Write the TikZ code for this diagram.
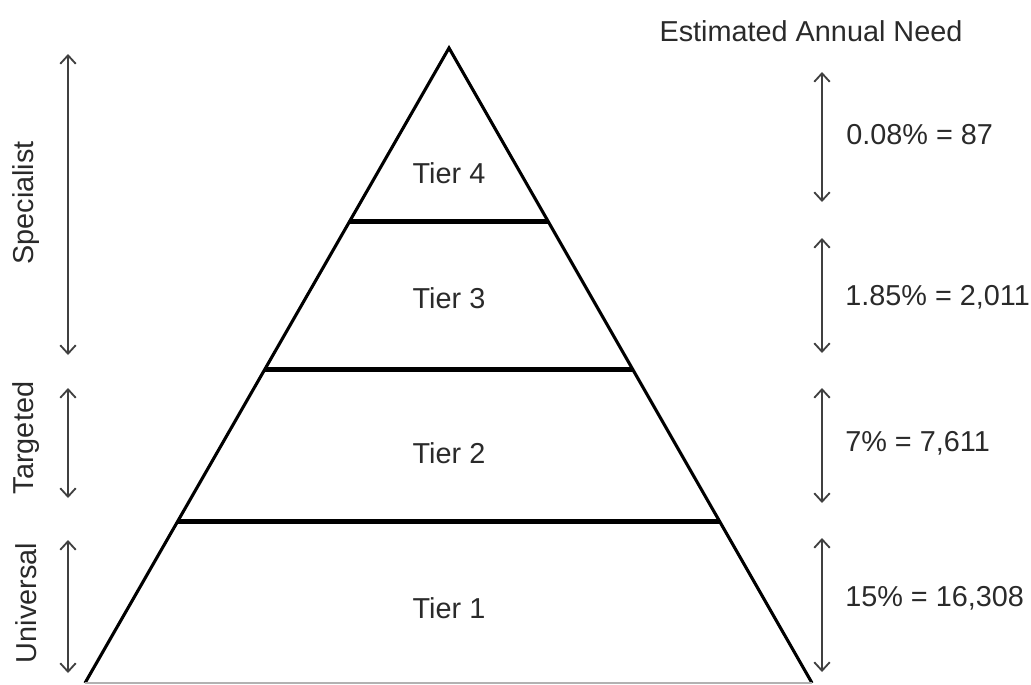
\documentclass[tikz,border=0pt]{standalone}
\usepackage{fontspec}
\setmainfont{Liberation Sans}
\usetikzlibrary{arrows.meta, calc}

\definecolor{txtgray}{HTML}{2A2A2A}
\definecolor{arrgray}{HTML}{404040}

\begin{document}
\begin{tikzpicture}[x=0.025cm, y=-0.025cm, font=\fontsize{20.5}{24}\selectfont,
    side/.style={line width=2.2pt, black, line join=miter},
    tierline/.style={line width=3.2pt, black},
    span/.style={{Straight Barb[length=6pt, width=11pt]}-{Straight Barb[length=6pt, width=11pt]}, line width=1.3pt, arrgray},
    label/.style={text=txtgray, inner sep=0pt}]
    % ==========================================
    % PARAMETRI
    % ==========================================
    \def\xApex{449}   % vertice della piramide
    \def\xLeft{68}    % frecce di sinistra
    \def\xRight{822}  % frecce di destra

    \useasboundingbox (0,0) rectangle (1031,684);

    % ==========================================
    % MACRO PER UNA FRECCIA DOPPIA
    % #1 = nome, #2 = x, #3 = y alto, #4 = y basso
    % ==========================================
    \newcommand{\drawspan}[4]{
        \coordinate (#1-top) at (#2,#3);
        \coordinate (#1-bot) at (#2,#4);
        \draw [span] (#1-top) -- (#1-bot);
    }

    % ==========================================
    % PIRAMIDE
    % ==========================================
    \coordinate (apex) at (\xApex,48);
    \coordinate (bl) at (85,683);
    \coordinate (br) at (812,683);
    \draw [side] (bl) -- (apex) -- (br);
    \draw [line width=1pt, gray!60] (bl) -- (br);

    % Linee tra i livelli
    \draw [tierline] ($(apex)!0.2736!(bl)$) -- ($(apex)!0.2736!(br)$);
    \draw [tierline] ($(apex)!0.5063!(bl)$) -- ($(apex)!0.5063!(br)$);
    \draw [tierline] ($(apex)!0.7453!(bl)$) -- ($(apex)!0.7453!(br)$);

    % Etichette dei livelli
    \node [label] (tier4) at (\xApex,173) {Tier 4};
    \node [label] (tier3) at (\xApex,298) {Tier 3};
    \node [label] (tier2) at (\xApex,453) {Tier 2};
    \node [label] (tier1) at (\xApex,608) {Tier 1};

    % ==========================================
    % FRECCE E TESTI A SINISTRA
    % ==========================================
    \drawspan{spec}{\xLeft}{54}{355}
    \drawspan{targ}{\xLeft}{388}{498}
    \drawspan{univ}{\xLeft}{540}{673}

    \node [label, rotate=90] (specialist) at (26,203) {Specialist};
    \node [label, rotate=90] (targeted) at (26,438) {Targeted};
    \node [label, rotate=90] (universal) at (26,603) {Universal};

    % ==========================================
    % FRECCE E TESTI A DESTRA
    % ==========================================
    \node [label] (need) at (811,31) {Estimated Annual Need};

    \drawspan{n4}{\xRight}{72}{202}
    \drawspan{n3}{\xRight}{238}{353}
    \drawspan{n2}{\xRight}{388}{503}
    \drawspan{n1}{\xRight}{538}{672}

    \node [label, anchor=west] (pct4) at (846,135) {0.08\% = 87};
    \node [label, anchor=west] (pct3) at (845,297) {1.85\% = 2,011};
    \node [label, anchor=west] (pct2) at (845,443) {7\% = 7,611};
    \node [label, anchor=west] (pct1) at (845,598) {15\% = 16,308};

\end{tikzpicture}
\end{document}
